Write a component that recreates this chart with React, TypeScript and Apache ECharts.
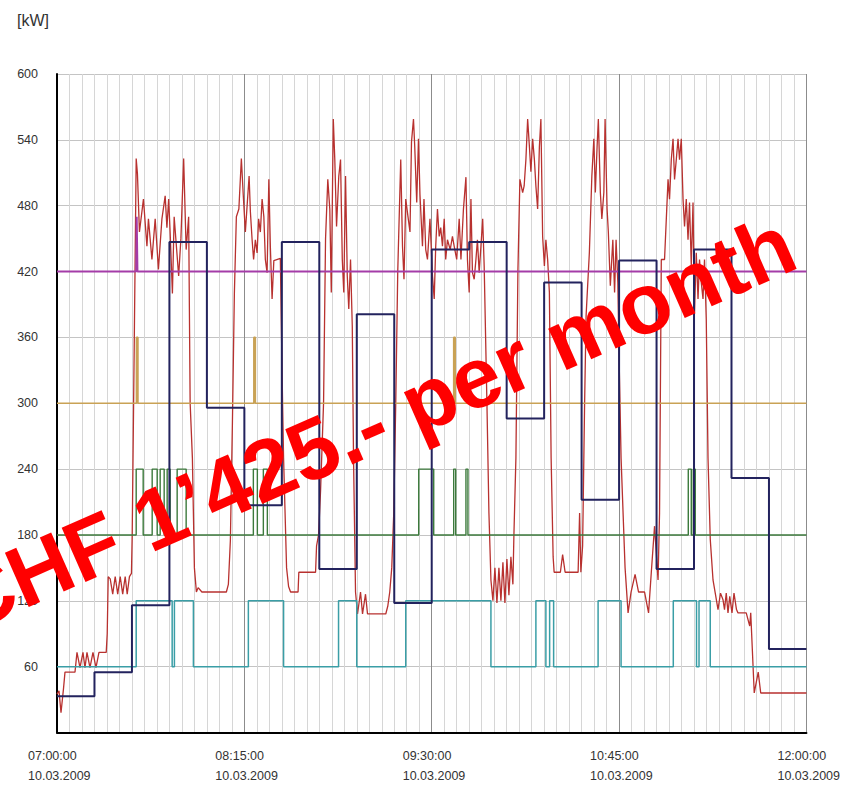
import React, { useEffect, useRef } from "react";
import * as echarts from "echarts";

// ---- tick labels ----
const xTimeLabels = ["07:00:00", "08:15:00", "09:30:00", "10:45:00", "12:00:00"];
const xDateLabels = ["10.03.2009", "10.03.2009", "10.03.2009", "10.03.2009", "10.03.2009"];
const yUnit = "[kW]";
const overlayText = "CHF 1\u2019425.- per month";

// ---- data (x = minutes after 07:00, y = kW) ----
// 15-minute average steps (navy)
const navyTimes = [0, 15, 30, 45, 60, 75, 90, 105, 120, 135, 150, 165, 180, 195, 210, 225, 240, 255, 270, 285, 300];
const navyValues = [33, 55, 116, 447, 296, 207, 447, 149, 381, 118, 440, 447, 286, 410, 212, 430, 149, 440, 232, 76, 76];

// cyan step series
const cyanTimes = [0, 31.7, 46.1, 47.0, 54.6, 76.6, 90.7, 112.7, 120.0, 139.6, 173.7, 191.7, 195.7, 197.2, 198.8, 216.6, 225.8, 246.7, 256.0, 257.0, 261.5, 300];
const cyanValues = [60, 120, 60, 120, 60, 120, 60, 120, 60, 120, 60, 120, 60, 120, 60, 120, 60, 120, 60, 120, 60, 60];

// green step series
const greenTimes = [0, 31.7, 34.5, 38.1, 40.1, 41.3, 42.9, 44.1, 45.3, 48.1, 51.7, 78.6, 80.2, 82.6, 84.2, 144.8, 150.8, 158.8, 159.6, 163.7, 164.5, 252.7, 253.9, 254.7, 255.5, 300];
const greenValues = [180, 240, 180, 240, 180, 240, 180, 240, 180, 240, 180, 240, 180, 240, 180, 240, 180, 240, 180, 240, 180, 240, 180, 240, 180, 180];

// orange step series
const orangeTimes = [0, 31.8, 32.4, 78.8, 79.4, 158.8, 159.4, 300];
const orangeValues = [300, 360, 300, 360, 300, 360, 300, 300];

// magenta limit line
const magentaLine = [[0, 420], [31.7, 420], [31.9, 470], [32.2, 420], [300, 420]];

// measured load (red)
const redLoad = [
  [0, 35], [0.8, 38], [1.6, 18], [2.6, 40], [3.2, 55], [7.2, 55], [8.0, 73], [9.2, 59], [10.4, 73], [11.2, 59],
  [12.0, 73], [13.2, 59], [14.4, 73], [15.6, 59], [16.8, 73], [19.7, 73], [20.1, 90], [20.5, 142], [21.3, 140], [22.3, 126],
  [23.3, 142], [24.3, 126], [25.3, 142], [26.3, 126], [27.3, 142], [28.1, 126], [29.0, 142], [29.8, 145], [30.1, 180], [30.9, 350],
  [31.7, 523], [32.2, 509], [33.0, 456], [34.6, 486], [36.0, 443], [36.6, 468], [38.0, 431], [39.3, 468], [40.6, 422], [42.0, 468],
  [43.3, 489], [44.0, 460], [44.7, 486], [45.3, 455], [46.2, 400], [46.9, 470], [48.7, 416], [49.6, 450], [50.7, 523], [51.7, 440],
  [52.7, 470], [53.3, 300], [54.2, 250], [55.0, 150], [55.8, 128], [56.5, 132], [58.0, 128], [67.8, 128], [68.6, 135], [69.4, 175],
  [70.2, 280], [71.0, 400], [71.8, 470], [72.8, 477], [73.8, 523], [74.5, 492], [75.4, 456], [76.1, 480], [76.9, 507], [77.4, 475],
  [78.1, 449], [78.7, 431], [79.4, 449], [80.1, 437], [80.7, 468], [81.4, 456], [82.1, 486], [82.8, 470], [83.4, 431], [84.1, 419],
  [84.8, 504], [85.4, 443], [86.1, 395], [86.8, 430], [89.4, 432], [90.3, 300], [90.7, 250], [91.9, 150], [92.7, 133], [93.5, 128],
  [96.5, 128], [96.8, 146], [103.5, 146], [103.9, 170], [104.7, 180], [105.5, 220], [106.7, 300], [107.5, 450], [108.4, 504], [109.2, 477],
  [109.8, 401], [110.6, 559], [111.2, 522], [111.9, 461], [112.8, 507], [113.5, 522], [114.2, 431], [114.8, 401], [115.5, 507], [116.2, 416],
  [116.8, 386], [117.5, 431], [118.2, 370], [118.7, 250], [119.5, 128], [120.3, 108], [121.5, 128], [122.3, 108], [123.5, 126], [124.3, 108],
  [131.6, 108], [132.4, 115], [133.2, 128], [134.0, 150], [134.8, 200], [135.6, 300], [136.4, 420], [137.6, 522], [138.3, 443], [138.9, 413],
  [139.6, 486], [140.5, 470], [141.3, 456], [141.9, 538], [142.7, 559], [143.2, 534], [144.0, 483], [144.7, 541], [145.3, 490], [146.3, 443],
  [146.9, 486], [147.6, 440], [148.3, 431], [149.3, 468], [150.3, 416], [151.0, 395], [151.6, 443], [152.3, 477], [153.0, 452], [153.6, 460],
  [154.3, 443], [155.0, 468], [155.6, 431], [156.3, 449], [157.4, 440], [158.3, 452], [159.0, 443], [160.0, 431], [161.0, 468], [161.7, 431],
  [162.7, 477], [163.7, 506], [164.3, 431], [165.0, 401], [165.7, 486], [166.3, 419], [167.0, 413], [167.7, 431], [168.3, 449], [169.0, 419],
  [169.7, 443], [170.4, 468], [171.0, 425], [172.1, 300], [172.9, 200], [173.7, 139], [174.5, 120], [175.3, 150], [176.1, 118], [176.9, 150],
  [177.7, 120], [178.5, 155], [179.3, 118], [180.1, 158], [180.9, 125], [181.7, 160], [182.5, 135], [182.9, 180], [183.7, 250], [184.5, 420],
  [185.3, 504], [186.4, 492], [187.0, 498], [187.7, 522], [188.4, 559], [189.1, 534], [189.7, 511], [190.4, 541], [191.1, 522], [191.7, 498],
  [192.4, 477], [193.1, 534], [193.7, 559], [194.4, 452], [195.1, 425], [195.7, 449], [196.4, 431], [197.1, 401], [197.8, 250], [198.6, 160],
  [199.0, 146], [201.5, 146], [202.4, 162], [203.4, 146], [208.6, 146], [209.2, 200], [209.7, 146], [210.4, 170], [211.2, 300], [211.8, 380],
  [213.1, 437], [214.1, 507], [214.9, 541], [215.5, 492], [216.2, 534], [216.7, 559], [217.5, 492], [218.1, 468], [218.9, 492], [219.4, 559],
  [220.2, 477], [220.7, 456], [221.5, 407], [222.5, 449], [223.2, 401], [223.8, 449], [224.5, 410], [225.1, 330], [225.8, 250], [227.4, 150],
  [228.6, 109], [229.8, 128], [231.4, 144], [232.8, 128], [235.2, 128], [236.8, 109], [237.9, 146], [239.2, 188], [240.6, 139], [241.2, 200],
  [241.9, 431], [243.2, 431], [244.6, 504], [245.2, 486], [245.9, 522], [246.6, 541], [247.2, 504], [247.9, 522], [248.6, 541], [249.2, 522],
  [249.9, 541], [250.6, 486], [251.2, 461], [251.9, 486], [252.6, 449], [253.2, 483], [253.9, 425], [254.6, 483], [255.2, 383], [255.9, 437],
  [256.6, 395], [257.2, 431], [257.9, 410], [258.6, 395], [259.2, 431], [259.9, 376], [260.6, 250], [261.5, 176], [262.6, 139], [263.5, 127],
  [264.6, 112], [265.6, 127], [266.6, 121], [267.2, 112], [267.9, 127], [268.6, 109], [269.3, 124], [270.2, 109], [271.0, 127], [272.0, 112],
  [272.6, 109], [275.9, 109], [277.3, 97], [277.7, 109], [279.1, 36], [280.7, 55], [281.7, 36], [300, 36],
];

const pairs = (ts: number[], vs: number[]) => ts.map((t, i) => [t, vs[i]]);

const labelFont = "'Liberation Sans', Arial, sans-serif";

export default function App() {
  const ref = useRef<HTMLDivElement>(null);
  useEffect(() => {
    const chart = echarts.init(ref.current!, null, { renderer: "svg" });
    const stepLine = (name: string, data: number[][], color: string, width: number) => ({
      name,
      type: "line",
      data,
      step: "end",
      showSymbol: false,
      symbol: "none",
      lineStyle: { color, width },
      z: 3,
    });
    chart.setOption({
      animation: false,
      backgroundColor: "#ffffff",
      grid: { left: 57, right: 30, top: 74, bottom: 61.5, containLabel: false },
      xAxis: {
        type: "value",
        min: 0,
        max: 300,
        interval: 75,
        axisLine: { show: true, lineStyle: { color: "#000", width: 2 } },
        axisTick: { show: false },
        minorTick: { show: false, splitNumber: 15 },
        splitLine: { show: true, lineStyle: { color: "#8c8c8c", width: 1 } },
        minorSplitLine: { show: true, lineStyle: { color: "#d6d6d6", width: 1 } },
        axisLabel: {
          margin: 13,
          formatter: (v: number) => {
            const i = Math.round(v / 75);
            return `{a|${xTimeLabels[i]}}\n{a|${xDateLabels[i]}}`;
          },
          rich: {
            a: { width: 58, align: "left", fontSize: 12.5, lineHeight: 20, fontFamily: labelFont, color: "#333" },
          },
        },
      },
      yAxis: {
        type: "value",
        min: 0,
        max: 600,
        interval: 60,
        axisLine: { show: true, lineStyle: { color: "#000", width: 2 } },
        axisTick: { show: false },
        splitLine: { show: true, lineStyle: { color: "#c4c4c4", width: 1 } },
        axisLabel: {
          margin: 19,
          fontSize: 12.5,
          fontFamily: labelFont,
          color: "#333",
          formatter: (v: number) => (v === 0 ? "" : String(v)),
        },
      },
      series: [
        {
          name: "Load",
          type: "line",
          data: redLoad,
          showSymbol: false,
          symbol: "none",
          lineStyle: { color: "#b8312f", width: 1.3 },
          z: 2,
        },
        stepLine("Cyan", pairs(cyanTimes, cyanValues), "#3a9ea6", 1.5),
        stepLine("Green", pairs(greenTimes, greenValues), "#3c7a3c", 1.4),
        stepLine("Orange", pairs(orangeTimes, orangeValues), "#c9a255", 1.6),
        {
          name: "Limit",
          type: "line",
          data: magentaLine,
          showSymbol: false,
          symbol: "none",
          lineStyle: { color: "#a43ca8", width: 2 },
          z: 3,
        },
        stepLine("Average", pairs(navyTimes, navyValues), "#23235e", 2),
      ],
      graphic: [
        {
          type: "text",
          left: 17,
          top: 12,
          style: { text: yUnit, fontSize: 16, fontFamily: labelFont, fill: "#333" },
        },
        {
          type: "text",
          x: 372,
          y: 423,
          rotation: 0.415,
          z: 100,
          style: {
            text: overlayText,
            fontSize: 86,
            fontWeight: "bold",
            fontFamily: "'Liberation Sans', Arial, sans-serif",
            fill: "#ff0000",
            align: "center",
            verticalAlign: "middle",
          },
        },
      ],
    });
    return () => chart.dispose();
  }, []);
  return (
    <div
      ref={ref}
      style={{ position: "fixed", left: 0, top: 0, width: 843, height: 794, background: "#fff" }}
    />
  );
}
